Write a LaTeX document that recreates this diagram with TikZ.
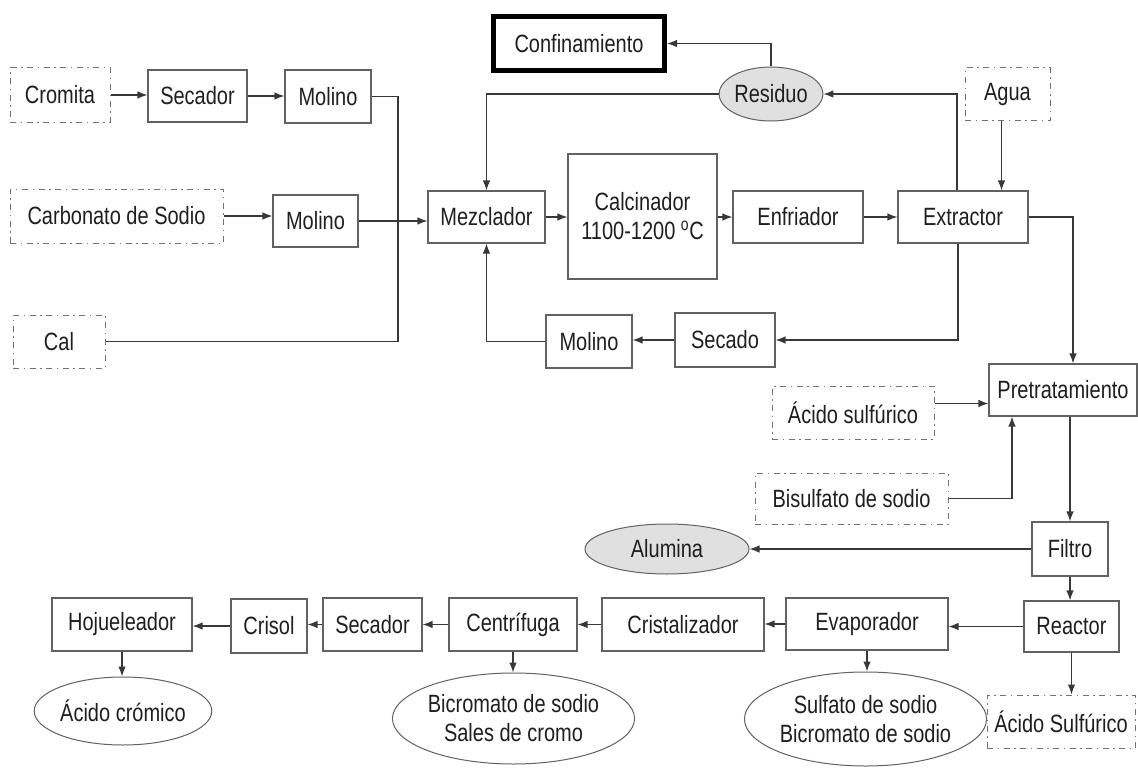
\documentclass[tikz,border=0pt]{standalone}
\usepackage{fontspec}
\setmainfont{Liberation Sans}[FakeStretch=0.8]
\usetikzlibrary{shapes.geometric,arrows.meta,calc}
\begin{document}
\begin{tikzpicture}[x=1pt,y=-1pt,
  every node/.style={font=\fontsize{25}{29}\selectfont, text=black!88, inner sep=0pt, align=center},
  sz/.style 2 args={minimum width=#1pt, minimum height=#2pt},
  box/.style={draw=black!62, line width=1.1pt, fill=white},
  ext/.style={draw=black!55, line width=1pt, dash pattern=on 6pt off 4.5pt on 1.5pt off 4.5pt},
  ell/.style={ellipse, draw=black!62, line width=1pt, fill=white},
  gell/.style={ellipse, draw=black!62, line width=1pt, fill=black!12},
  thickbox/.style={draw=black, line width=5pt, fill=white},
  ln/.style={draw=black!78, line width=1.2pt},
  arr/.style={ln, -{Latex[length=10pt,width=7.5pt]}}]
\useasboundingbox[fill=white] (0,0) rectangle (1138,768);

% top-left feed line
\node[ext, sz={100}{54}] (cromita) at (60,95) {Cromita};
\node[box, sz={99}{52}] (secador1) at (197.5,96) {Secador};
\node[box, sz={86}{53}] (molino1) at (328,96.5) {Molino};
\node[ext, sz={213}{54}] (carbonato) at (116.5,216) {Carbonato de Sodio};
\node[box, sz={85}{52}] (molino2) at (315.5,221) {Molino};
\node[ext, sz={92}{53}] (cal) at (59,341.5) {Cal};
\coordinate (jx) at (398,220);

% central loop
\node[thickbox, sz={171}{54}] (confin) at (579,43.5) {Confinamiento};
\node[gell, sz={98}{54}] (residuo) at (771,94) {Residuo};
\node[ext, sz={85}{52}] (agua) at (1007.5,94) {Agua};
\node[box, sz={117}{52}] (mezclador) at (486.5,217) {Mezclador};
\node[box, sz={149}{125}] (calcinador) at (642.5,216.5) {Calcinador\\1100-1200 \textsuperscript{o}C};
\node[box, sz={130}{52}] (enfriador) at (798,217) {Enfriador};
\node[box, sz={130}{52}] (extractor) at (963,217) {Extractor};
\node[box, sz={100}{54}] (secado) at (725,340) {Secado};
\node[box, sz={86}{53}] (molino3) at (589,341.5) {Molino};

% right column
\node[box, sz={148}{52}] (pretr) at (1063,390) {Pretratamiento};
\node[ext, sz={162}{53}] (acsulf) at (853,412.5) {Ácido sulfúrico};
\node[ext, sz={193}{51}] (bisulf) at (851.5,498.5) {Bisulfato de sodio};
\node[box, sz={76}{54}] (filtro) at (1070,549) {Filtro};
\node[gell, sz={164}{50}] (alumina) at (667,549) {Alumina};
\node[box, sz={95}{51}] (reactor) at (1071.5,626.5) {Reactor};
\node[ext, sz={148}{53}] (acsulf2) at (1061,721.5) {Ácido Sulfúrico};

% bottom row
\node[box, sz={162}{52}] (evap) at (867,624) {Evaporador};
\node[box, sz={162}{53}] (crist) at (683,624.5) {Cristalizador};
\node[box, sz={128}{53}] (centri) at (513,624.5) {Centrífuga};
\node[box, sz={99}{53}] (secador2) at (372.5,624.5) {Secador};
\node[box, sz={76}{54}] (crisol) at (269,626) {Crisol};
\node[box, sz={140}{53}] (hojue) at (122,624.5) {Hojueleador};
\node[ell, sz={225}{94}] (sulfato) at (865.5,719) {Sulfato de sodio\\Bicromato de sodio};
\node[ell, sz={213}{91}] (bicrom) at (513.5,718.5) {Bicromato de sodio\\Sales de cromo};
\node[ell, sz={164}{68}] (cromico) at (123,711) {Ácido crómico};

% connectors: feed
\draw[arr] (cromita.east) -- (cromita.east -| secador1.west);
\draw[arr] (secador1.east) -- (secador1.east -| molino1.west);
\draw[ln] (molino1.east) -| (jx) |- (cal.east);
\draw[arr] (carbonato.east) -- (carbonato.east -| molino2.west);
\draw[arr] (molino2.east) -- (molino2.east -| mezclador.west);

% central loop
\draw[arr] (residuo.west) -| (mezclador.north);
\draw[arr] (molino3.west) -| (mezclador.south);
\draw[arr] (mezclador.east) -- (mezclador.east -| calcinador.west);
\draw[arr] (calcinador.east |- enfriador.west) -- (enfriador.west);
\draw[arr] (enfriador.east) -- (extractor.west);
\draw[arr] ([xshift=-6pt]agua.south) -- ([xshift=-6pt]agua.south |- extractor.north);
\draw[arr] ([xshift=-6pt]extractor.north) |- (residuo.east);
\draw[arr] (residuo.north) |- (confin.east);
\draw[arr] ([xshift=-5pt]extractor.south) |- (secado.east);
\draw[arr] (secado.west) -- (secado.west -| molino3.east);

% right column
\draw[arr] (extractor.east) -| ([xshift=10pt]pretr.north);
\draw[arr] ([yshift=9pt]acsulf.east) -- ([yshift=9pt]acsulf.east -| pretr.west);
\draw[arr] (bisulf.east) -| ([xshift=-51pt]pretr.south);
\draw[arr] (filtro.north |- pretr.south) -- (filtro.north);
\draw[arr] (filtro.west) -- (alumina.east);
\draw[arr] (filtro.south) -- (filtro.south |- reactor.north);
\draw[arr] (reactor.south) -- (reactor.south |- acsulf2.north);

% bottom row
\draw[arr] (reactor.west) -- (reactor.west -| evap.east);
\draw[arr] (evap.south) -- (evap.south |- sulfato.north);
\draw[arr] (evap.west) -- (evap.west -| crist.east);
\draw[arr] (crist.west) -- (crist.west -| centri.east);
\draw[arr] (centri.west) -- (centri.west -| secador2.east);
\draw[arr] (centri.south) -- (centri.south |- bicrom.north);
\draw[arr] (secador2.west) -- (secador2.west -| crisol.east);
\draw[arr] (crisol.west) -- (crisol.west -| hojue.east);
\draw[arr] (hojue.south) -- (hojue.south |- cromico.north);
\end{tikzpicture}
\end{document}
